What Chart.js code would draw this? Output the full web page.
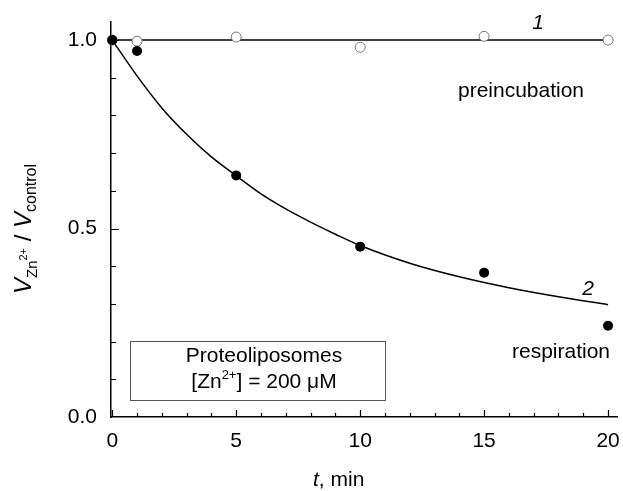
<!DOCTYPE html>
<html>
<head>
<meta charset="utf-8">
<script src="https://cdn.jsdelivr.net/npm/chart.js@4.4.1/dist/chart.umd.min.js"></script>
<style>
  html, body { margin: 0; padding: 0; background: #fff; }
  #wrap { width: 623px; height: 491px; position: relative; }
</style>
</head>
<body>
<div id="wrap"><canvas id="chart"></canvas></div>
<script>
// measured points
var times = [0, 1, 5, 10, 15, 20];
var preincubation = [1.0, 0.997, 1.008, 0.981, 1.01, 1.0];
var respiration = [1.0, 0.971, 0.641, 0.452, 0.383, 0.242];

// fitted curves
var fit1Times = [0, 20];
var fit1Values = [1.0, 1.0];
var fit2Times = [0, 1, 2, 3, 4, 5, 6, 7, 8, 9, 10, 12, 14, 16, 18, 20];
var fit2Values = [1.0, 0.905, 0.82, 0.75, 0.69, 0.64, 0.592, 0.552, 0.517, 0.485, 0.455, 0.408, 0.372, 0.343, 0.319, 0.298];

var xTicks = [0, 5, 10, 15, 20];
var yTicks = [0.0, 0.5, 1.0];

var FONT = '"Liberation Sans", Arial, sans-serif';

function toXY(xs, ys) {
    return xs.map(function (x, i) { return { x: x, y: ys[i] }; });
}

// draw a run of text pieces: [text, size, italic, dy]
function drawRun(ctx, x, y, parts, align) {
    var total = 0;
    parts.forEach(function (p) {
        ctx.font = (p[2] ? 'italic ' : '') + p[1] + 'px ' + FONT;
        total += ctx.measureText(p[0]).width;
    });
    var cx = x;
    if (align === 'center') cx = x - total / 2;
    if (align === 'right') cx = x - total;
    ctx.textAlign = 'left';
    ctx.textBaseline = 'alphabetic';
    parts.forEach(function (p) {
        ctx.font = (p[2] ? 'italic ' : '') + p[1] + 'px ' + FONT;
        ctx.fillText(p[0], cx, y + (p[3] || 0));
        cx += ctx.measureText(p[0]).width;
    });
}

var decorations = {
    id: 'decorations',
    afterDraw: function (chart) {
        var ctx = chart.ctx;
        var xs = chart.scales.x, ys = chart.scales.y;
        var area = chart.chartArea;
        ctx.save();
        ctx.strokeStyle = '#000';
        ctx.lineWidth = 1.2;
        ctx.beginPath();
        // inner ticks on y axis
        for (var i = 1; i <= 10; i++) {
            var v = i / 10;
            var py = Math.round(ys.getPixelForValue(v)) + 0.5;
            var len = (i % 5 === 0) ? 8 : 5;
            ctx.moveTo(area.left, py);
            ctx.lineTo(area.left + len, py);
        }
        // inner ticks on x axis
        for (var t = 0; t <= 20; t++) {
            var px = Math.round(xs.getPixelForValue(t)) + 0.5;
            var l = (t % 5 === 0) ? 7 : 4;
            ctx.moveTo(px, area.bottom);
            ctx.lineTo(px, area.bottom - l);
        }
        ctx.stroke();

        ctx.fillStyle = '#000';
        // curve labels
        drawRun(ctx, 538, 29, [['1', 21, true]], 'center');
        drawRun(ctx, 588, 295, [['2', 21, true]], 'center');
        drawRun(ctx, 521, 97, [['preincubation', 21]], 'center');
        drawRun(ctx, 561, 358, [['respiration', 21]], 'center');

        // box
        ctx.strokeStyle = '#555';
        ctx.lineWidth = 1;
        ctx.strokeRect(130.5, 341.5, 255, 59);
        ctx.fillStyle = '#000';
        drawRun(ctx, 264, 362, [['Proteoliposomes', 21]], 'center');
        drawRun(ctx, 264, 388, [['[Zn', 21], ['2+', 13, false, -9], ['] = 200 \u03bcM', 21]], 'center');

        // x axis title
        drawRun(ctx, 313, 486, [['t', 21, true], [', min', 21]], 'left');

        // y axis title (rotated)
        ctx.translate(31, 229);
        ctx.rotate(-Math.PI / 2);
        drawRun(ctx, 0, 0, [
            ['V', 24, true], ['Zn', 15, false, 6], ['2+', 11, false, -4],
            [' / ', 24], ['V', 24, true], ['control', 16, false, 5]
        ], 'center');
        ctx.restore();
    }
};

var ctx = document.getElementById('chart').getContext('2d');
var chart = new Chart(ctx, {
    type: 'scatter',
    data: {
        datasets: [
            {
                label: 'respiration',
                data: toXY(times, respiration),
                pointRadius: 5,
                pointBackgroundColor: '#000',
                pointBorderColor: '#000',
                pointBorderWidth: 0,
                showLine: false,
                clip: false,
                order: 0
            },
            {
                label: 'preincubation',
                data: toXY(times, preincubation),
                pointRadius: 5,
                pointBackgroundColor: '#fff',
                pointBorderColor: '#777',
                pointBorderWidth: 1,
                showLine: false,
                clip: false,
                order: 1
            },
            {
                label: 'fit 1',
                data: toXY(fit1Times, fit1Values),
                showLine: true,
                pointRadius: 0,
                borderColor: '#000',
                borderWidth: 1.5,
                order: 2
            },
            {
                label: 'fit 2',
                data: toXY(fit2Times, fit2Values),
                showLine: true,
                cubicInterpolationMode: 'monotone',
                pointRadius: 0,
                borderColor: '#000',
                borderWidth: 1.5,
                order: 3
            }
        ]
    },
    options: {
        responsive: true,
        maintainAspectRatio: false,
        animation: false,
        layout: { padding: { top: 22, right: 0, left: 0, bottom: 0 } },
        plugins: {
            legend: { display: false },
            tooltip: { enabled: false }
        },
        scales: {
            x: {
                type: 'linear',
                min: -0.05,
                max: 20.36,
                afterFit: function (scale) {
                    scale.height = 74;
                    scale.paddingLeft = 0;
                    scale.paddingRight = 0;
                },
                afterBuildTicks: function (scale) {
                    scale.ticks = xTicks.map(function (v) { return { value: v }; });
                },
                ticks: {
                    color: '#000',
                    font: { family: FONT, size: 21 },
                    padding: 12,
                    maxRotation: 0
                },
                grid: { display: false, drawTicks: false },
                border: { color: '#000', width: 1.5 }
            },
            y: {
                type: 'linear',
                min: 0,
                max: 1.048,
                afterFit: function (scale) {
                    scale.width = 111;
                    scale.paddingTop = 0;
                    scale.paddingBottom = 0;
                },
                afterBuildTicks: function (scale) {
                    scale.ticks = yTicks.map(function (v) { return { value: v }; });
                },
                ticks: {
                    color: '#000',
                    font: { family: FONT, size: 21 },
                    padding: 14,
                    callback: function (v) { return v.toFixed(1); }
                },
                grid: { display: false, drawTicks: false },
                border: { color: '#000', width: 1.5 }
            }
        }
    },
    plugins: [decorations]
});
</script>
</body>
</html>
